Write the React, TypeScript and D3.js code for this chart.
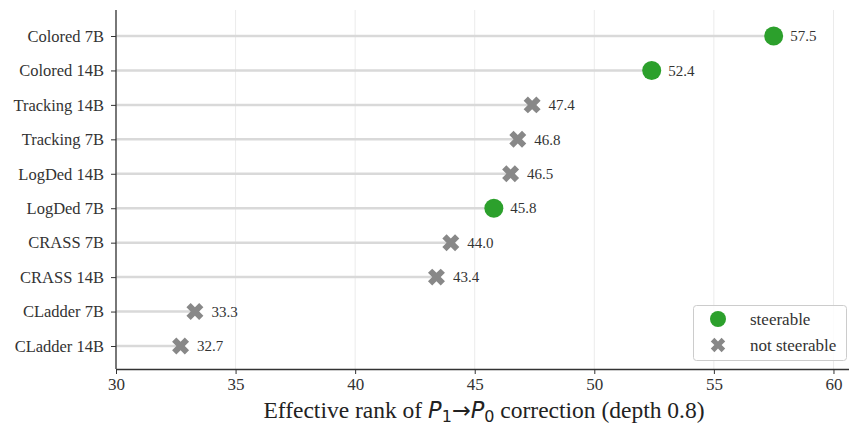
import { useEffect, useRef } from "react";
import * as d3 from "d3";

const categories = [
  "Colored 7B", "Colored 14B", "Tracking 14B", "Tracking 7B", "LogDed 14B",
  "LogDed 7B", "CRASS 7B", "CRASS 14B", "CLadder 7B", "CLadder 14B",
];
const ranks = [57.5, 52.4, 47.4, 46.8, 46.5, 45.8, 44.0, 43.4, 33.3, 32.7];
const steerable = [true, true, false, false, false, true, false, false, false, false];
const xTicks = [30, 35, 40, 45, 50, 55, 60];

const W = 849, H = 425;
const SERIF = "Liberation Serif, Times New Roman, serif";
const GREEN = "#2ca02c";
const GRAY = "#888888";

export default function App() {
  const svgRef = useRef<SVGSVGElement>(null);

  useEffect(() => {
    const svg = d3.select(svgRef.current);
    svg.selectAll("*").remove();

    const x = d3.scaleLinear().domain([30, 60.65]).range([116, 849]);
    const y = d3.scalePoint<string>().domain(categories).range([36, 346]);
    const top = 10, bottom = 369;

    // grid
    svg.append("g")
      .selectAll("line")
      .data(xTicks)
      .join("line")
      .attr("x1", d => x(d)).attr("x2", d => x(d))
      .attr("y1", top).attr("y2", bottom)
      .attr("stroke", "#ebebeb").attr("stroke-width", 1);

    const rows = categories.map((c, i) => ({ c, v: ranks[i], s: steerable[i] }));

    // stems
    svg.append("g")
      .selectAll("line")
      .data(rows)
      .join("line")
      .attr("x1", x(30)).attr("x2", d => x(d.v))
      .attr("y1", d => y(d.c)!).attr("y2", d => y(d.c)!)
      .attr("stroke", "#d9d9d9").attr("stroke-width", 2.5);

    // markers
    const cross = d3.symbol().type(d3.symbolCross).size(180)();
    const mk = svg.append("g");
    rows.forEach(d => {
      if (d.s) {
        mk.append("circle").attr("cx", x(d.v)).attr("cy", y(d.c)!).attr("r", 9.5).attr("fill", GREEN);
      } else {
        mk.append("path").attr("d", cross)
          .attr("transform", `translate(${x(d.v)},${y(d.c)}) rotate(45)`)
          .attr("fill", GRAY);
      }
    });

    // value labels
    svg.append("g")
      .selectAll("text")
      .data(rows)
      .join("text")
      .attr("x", d => x(d.v) + 16.5)
      .attr("y", d => y(d.c)!)
      .attr("dy", "0.35em")
      .style("font-family", SERIF).attr("font-size", 15).attr("fill", "#333")
      .text(d => d.v.toFixed(1));

    // axes
    const xAxis = svg.append("g")
      .attr("transform", `translate(0,${bottom})`)
      .call(d3.axisBottom(x).tickValues(xTicks).tickSize(5).tickPadding(4).tickSizeOuter(0));
    xAxis.select(".domain").attr("stroke", "#333").attr("stroke-width", 1.3);
    xAxis.selectAll("line").attr("stroke", "#333");
    xAxis.selectAll("text").style("font-family", SERIF).attr("font-size", 17).attr("fill", "#333");

    const yAxis = svg.append("g")
      .attr("transform", `translate(${x(30)},0)`)
      .call(d3.axisLeft(y).tickSize(5).tickPadding(7).tickSizeOuter(0));
    yAxis.select(".domain").attr("d", `M0,${top}V${bottom}`).attr("stroke", "#333").attr("stroke-width", 1.3);
    yAxis.selectAll("line").attr("stroke", "#333");
    yAxis.selectAll("text").style("font-family", SERIF).attr("font-size", 16.5).attr("fill", "#333");

    // x title
    const t = svg.append("text")
      .attr("x", 484).attr("y", 418)
      .attr("text-anchor", "middle")
      .style("font-family", SERIF).attr("font-size", 23.5).attr("fill", "#222");
    const math = (s: string, opts: { italic?: boolean; sub?: boolean }) => {
      const sp = t.append("tspan").style("font-family", "DejaVu Sans")
        .attr("font-size", opts.sub ? 16 : 22.5).text(s);
      if (opts.italic) sp.attr("font-style", "italic");
      return sp;
    };
    t.append("tspan").text("Effective rank of ");
    math("P", { italic: true });
    math("1", { sub: true }).attr("dy", 3.5);
    math("→", {}).attr("dy", -3.5);
    math("P", { italic: true });
    math("0", { sub: true }).attr("dy", 3.5);
    t.append("tspan").attr("dy", -3.5).text(" correction (depth 0.8)");

    // legend
    const lg = svg.append("g");
    lg.append("rect")
      .attr("x", 693.5).attr("y", 305.5).attr("width", 153).attr("height", 55)
      .attr("rx", 3).attr("fill", "white").attr("fill-opacity", 0.85)
      .attr("stroke", "#cccccc");
    lg.append("circle").attr("cx", 718).attr("cy", 319).attr("r", 8).attr("fill", GREEN);
    lg.append("path").attr("d", d3.symbol().type(d3.symbolCross).size(130)())
      .attr("transform", "translate(718,345) rotate(45)").attr("fill", GRAY);
    [["steerable", 319], ["not steerable", 345]].forEach(([label, ly]) => {
      lg.append("text").attr("x", 750).attr("y", ly as number).attr("dy", "0.35em")
        .style("font-family", SERIF).attr("font-size", 17).attr("fill", "#333")
        .text(label as string);
    });
  }, []);

  return (
    <div style={{ position: "absolute", left: 0, top: 0, width: W, height: H, background: "white" }}>
      <svg ref={svgRef} width={W} height={H} style={{ display: "block" }} />
    </div>
  );
}
